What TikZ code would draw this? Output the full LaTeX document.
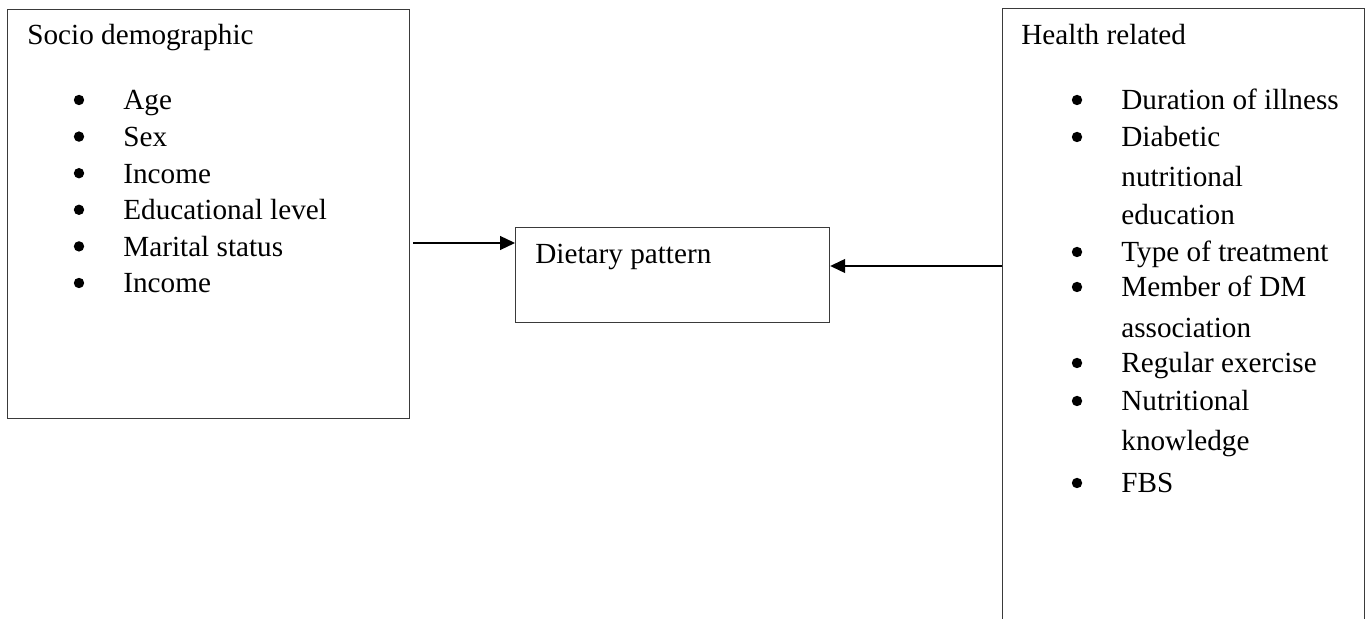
\documentclass[tikz,border=0pt]{standalone}
\usepackage{fontspec}
\setmainfont{Liberation Serif}
\usetikzlibrary{arrows.meta, positioning}
\definecolor{boxGray}{HTML}{3A3A3A}
\tikzset{
  factbox/.style={draw=boxGray, line width=0.6pt, anchor=north west,
                  inner sep=0pt},
  ftext/.style={anchor=base west, inner sep=0pt,
                font=\fontsize{14.6}{17}\selectfont},
  fbullet/.style={circle, fill=black, minimum size=5.2pt, inner sep=0pt},
  farrow/.style={-{Triangle[length=7.5pt, width=7pt]}, line width=0.6pt},
}

\begin{document}
\begin{tikzpicture}[x=0.5pt, y=-0.5pt]
    \useasboundingbox (0,0) rectangle (1370,619);
    \clip (0,0) rectangle (1370,619);
    % the three boxes
    \node[factbox, minimum width=201pt, minimum height=204.5pt] (socio) at (7,9) {};
    \node[factbox, minimum width=157pt, minimum height=47.5pt] (diet) at (515,227) {};
    \node[factbox, minimum width=181pt, minimum height=330pt] (health) at (1002,8) {};
    % titles
    \node[ftext] (sociot) at (27,45) {Socio demographic};
    \node[ftext] (dietT) at (535,264) {Dietary pattern};
    \node[ftext] (healtht) at (1021,45) {Health related};
    % socio demographic list
    \foreach \txt [count=\i] in {Age, Sex, Income, Educational level, Marital status, Income} {
      \node[fbullet] (sb\i) at (79,{63.4+36.6*\i}) {};
      \node[ftext] (si\i) at (123,{73.4+36.6*\i}) {\txt};
    }
    % health related list (bullet flag / baseline / text)
    \foreach \b/\y/\txt [count=\i] in {1/110/Duration of illness, 1/147/Diabetic,
        0/187/nutritional, 0/225/education, 1/262/Type of treatment,
        1/297/Member of DM, 0/338/association, 1/373/Regular exercise,
        1/411/Nutritional, 0/451/knowledge, 1/493/FBS} {
      \ifnum\b=1 \node[fbullet] (hb\i) at (1077,\y-10) {};\fi
      \node[ftext] (hi\i) at (1121,\y) {\txt};
    }
    % connectors
    \coordinate (sout) at (413,243);
    \draw[farrow] (sout) -- (sout -| diet.west);
    \draw[farrow] (health.west |- 0,266) -- (diet.east |- 0,266);
\end{tikzpicture}
\end{document}
